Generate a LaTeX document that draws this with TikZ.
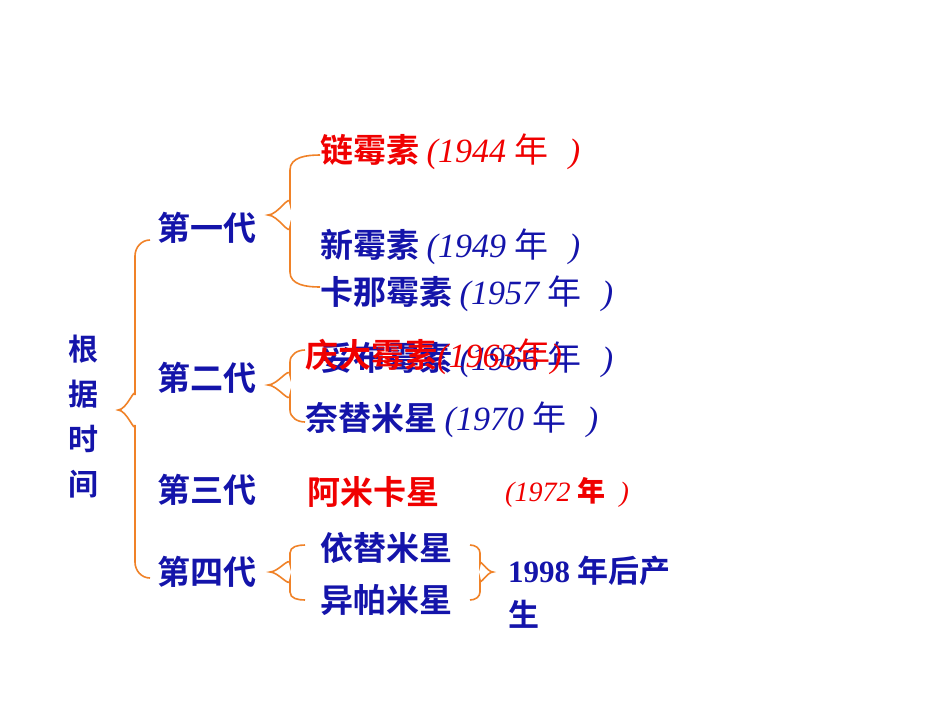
\documentclass[tikz,border=0pt]{standalone}
\usepackage{fontspec}
\newfontfamily\cjk{Noto Sans CJK SC}[BoldFont={Noto Sans CJK SC Bold}]
\setmainfont{Liberation Serif}
\definecolor{myblue}{RGB}{20,20,170}
\definecolor{myred}{RGB}{240,0,0}
\definecolor{myorange}{RGB}{240,130,40}
\begin{document}
\begin{tikzpicture}[x=1pt,y=-1pt,
  t/.style={anchor=west,inner sep=0pt,font=\cjk\bfseries\fontsize{33}{36}\selectfont,text=myblue},
  r/.style={t,text=myred},
  br/.style={draw=myorange,line width=1.6pt}]
\fill[white] (0,0) rectangle (950,713);
\newcommand{\yr}[1]{\normalfont\itshape\fontsize{34}{36}\selectfont(#1 {\cjk 年}\hspace{0.6em})}
\draw[br] (150,240) to[out=180,in=90] (135,256) -- (135,395) to[out=90,in=0] (118,410) to[out=0,in=-90] (135,425) -- (135,562) to[out=-90,in=180] (150,578);
\draw[br] (320,155) to[out=180,in=90] (290,170) -- (290,203) to[out=90,in=0] (268,215) to[out=0,in=-90] (290,227) -- (290,272) to[out=-90,in=180] (320,287);
\draw[br] (305,350) to[out=180,in=90] (290,362) -- (290,375) to[out=90,in=0] (268,385) to[out=0,in=-90] (290,395) -- (290,410) to[out=-90,in=180] (305,422);
\draw[br] (305,545) to[out=180,in=90] (290,553) -- (290,564) to[out=90,in=0] (270,572) to[out=0,in=-90] (290,580) -- (290,592) to[out=-90,in=180] (305,600);
\draw[br] (470,545) to[out=0,in=90] (480,553) -- (480,564) to[out=90,in=180] (493,572) to[out=180,in=-90] (480,580) -- (480,592) to[out=-90,in=0] (470,600);
\node[t,anchor=center,align=center,font=\cjk\bfseries\fontsize{30}{45}\selectfont] (time) at (83,417) {根\\据\\时\\间};
\node[t] (g1) at (157,228) {第一代};
\node[t] (g2) at (157,378) {第二代};
\node[t] (g3) at (157,490) {第三代};
\node[t] (g4) at (157,572) {第四代};
\node[r] (a1) at (320,152) {链霉素 \yr{1944}};
\node[t] (a2) at (320,247) {新霉素 \yr{1949}};
\node[t] (a3) at (320,294) {卡那霉素 \yr{1957}};
\node[t] (b2) at (320,360) {妥布霉素 \yr{1966}};
\node[r] (b1) at (305,357) {庆大霉素{\normalfont\itshape\fontsize{34}{36}\selectfont(1963{\cjk 年})}};
\node[t] (b3) at (305,420) {奈替米星 \yr{1970}};
\node[r] (c1) at (307,492) {阿米卡星};
\node[r,font=\normalfont\itshape\fontsize{28}{36}\selectfont] (c2) at (505,492) {(1972 {\cjk\bfseries 年}\hspace{0.5em})};
\node[t] (d1) at (320,548) {依替米星};
\node[t] (d2) at (320,600) {异帕米星};
\node[t,anchor=north west,align=left,font=\cjk\bfseries\fontsize{31}{44}\selectfont] (d3) at (508,556) {{\normalfont\bfseries 1998} 年后产\\生};
\end{tikzpicture}
\end{document}
